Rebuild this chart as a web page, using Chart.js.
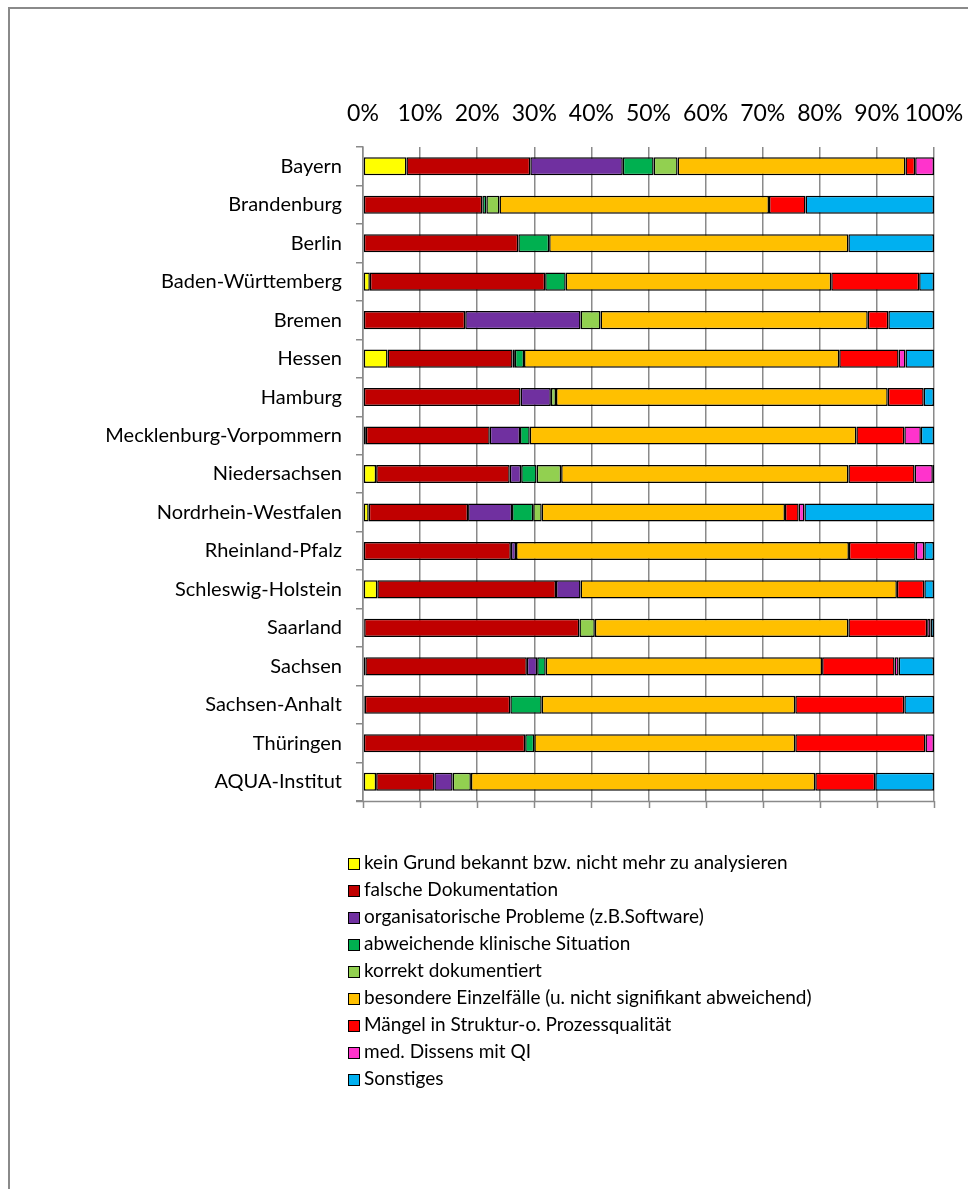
<!DOCTYPE html>
<html lang="de">
<head>
    <meta charset="UTF-8">
    <title>Gründe für auffällige Ergebnisse</title>
    <script src="https://cdn.jsdelivr.net/npm/chart.js"></script>
    <style>
        html, body {
            margin: 0;
            padding: 0;
            width: 968px;
            height: 1189px;
            overflow: hidden;
            background: #ffffff;
            font-family: 'Lato', sans-serif;
        }
        .frame {
            position: absolute;
            left: 8px;
            top: 7px;
            width: 2000px;
            height: 2000px;
            border: 2px solid #8a8a8a;
        }
        #chart {
            position: absolute;
            left: 0;
            top: 0;
        }
        #legend {
            position: absolute;
            left: 348px;
            top: 848px;
            margin: 0;
            padding: 0;
            list-style: none;
        }
        #legend li {
            height: 27px;
            line-height: 27px;
            font-size: 19px;
            color: #000;
            white-space: nowrap;
        }
        #legend span.box {
            display: inline-block;
            width: 10px;
            height: 10px;
            border: 1.5px solid #000;
            margin-right: 4px;
            vertical-align: -1px;
        }
    </style>
</head>
<body>
    <div class="frame"></div>
    <canvas id="chart" width="968" height="1189"></canvas>
    <ul id="legend"></ul>

    <script>
        // Categories (top to bottom)
        const laender = [
            'Bayern', 'Brandenburg', 'Berlin', 'Baden-Württemberg', 'Bremen', 'Hessen', 'Hamburg',
            'Mecklenburg-Vorpommern', 'Niedersachsen', 'Nordrhein-Westfalen', 'Rheinland-Pfalz',
            'Schleswig-Holstein', 'Saarland', 'Sachsen', 'Sachsen-Anhalt', 'Thüringen', 'AQUA-Institut'
        ];

        // Shares in percent, one array per reason (same order as laender)
        const keinGrund     = [7.6, 0, 0, 1.2, 0, 4.3, 0, 0.5, 2.3, 1.0, 0, 2.5, 0.2, 0.4, 0.3, 0, 2.3];
        const falscheDoku   = [21.7, 20.9, 27.2, 30.7, 17.9, 21.9, 27.6, 21.7, 23.4, 17.4, 25.9, 31.3, 37.7, 28.3, 25.5, 28.4, 10.2];
        const orgaProbleme  = [16.2, 0, 0, 0, 20.2, 0.4, 5.3, 5.3, 2.0, 7.7, 0.9, 4.3, 0, 1.8, 0, 0, 3.2];
        const klinSituation = [5.4, 0.7, 5.4, 3.6, 0, 1.6, 0, 1.7, 2.7, 3.7, 0, 0, 0, 1.5, 5.5, 1.6, 0];
        const korrektDoku   = [4.2, 2.3, 0, 0, 3.5, 0, 0.9, 0, 4.3, 1.5, 0, 0, 2.7, 0, 0, 0, 3.2];
        const einzelfaelle  = [39.9, 47.2, 52.4, 46.5, 46.8, 55.2, 58.1, 57.2, 50.3, 42.6, 58.3, 55.4, 44.4, 48.4, 44.4, 45.7, 60.3];
        const maengel       = [1.7, 6.4, 0, 15.4, 3.6, 10.4, 6.3, 8.4, 11.6, 2.4, 11.7, 4.8, 13.8, 12.7, 19.1, 22.8, 10.5];
        const dissens       = [3.3, 0, 0, 0, 0, 1.2, 0, 2.9, 3.2, 1.0, 1.5, 0, 0.6, 0.7, 0, 1.5, 0];
        const sonstiges     = [0, 22.5, 15.0, 2.6, 8.0, 5.0, 1.8, 2.3, 0.2, 22.7, 1.7, 1.7, 0.6, 6.2, 5.2, 0, 10.3];

        const reasonLabels = [
            'kein Grund bekannt bzw. nicht mehr zu analysieren',
            'falsche Dokumentation',
            'organisatorische Probleme (z.B.Software)',
            'abweichende klinische Situation',
            'korrekt dokumentiert',
            'besondere Einzelfälle (u. nicht signifikant abweichend)',
            'Mängel in Struktur-o. Prozessqualität',
            'med. Dissens mit QI',
            'Sonstiges'
        ];
        const reasonValues = [keinGrund, falscheDoku, orgaProbleme, klinSituation, korrektDoku,
                              einzelfaelle, maengel, dissens, sonstiges];
        const reasonColors = ['#FFFF00', '#C00000', '#7030A0', '#00B050', '#92D050',
                              '#FFC000', '#FF0000', '#FF33CC', '#00B0F0'];

        const xTicks = [0, 10, 20, 30, 40, 50, 60, 70, 80, 90, 100];

        const gridColor = '#8a8a8a';

        const datasets = reasonLabels.map((label, i) => ({
            label: label,
            data: reasonValues[i].map(v => v || null),
            backgroundColor: reasonColors[i],
            borderColor: '#000000',
            borderWidth: 1.5,
            borderSkipped: false,
            inflateAmount: 0,
            barPercentage: 0.47,
            categoryPercentage: 1.0
        }));

        // bottom axis line with tick marks below (value axis labels sit on top)
        const bottomAxis = {
            id: 'bottomAxis',
            afterDraw(chart) {
                const { ctx, chartArea, scales } = chart;
                const tl = 7;
                ctx.save();
                ctx.strokeStyle = gridColor;
                ctx.lineWidth = 1.5;
                ctx.beginPath();
                ctx.moveTo(chartArea.left - tl, chartArea.bottom + 0.5);
                ctx.lineTo(chartArea.right, chartArea.bottom + 0.5);
                xTicks.forEach(t => {
                    const px = Math.round(scales.x.getPixelForValue(t)) + 0.5;
                    ctx.moveTo(px, chartArea.bottom);
                    ctx.lineTo(px, chartArea.bottom + tl);
                });
                ctx.stroke();
                ctx.restore();
            }
        };

        const ctx = document.getElementById('chart').getContext('2d');
        new Chart(ctx, {
            type: 'bar',
            data: { labels: laender, datasets: datasets },
            options: {
                indexAxis: 'y',
                responsive: false,
                animation: false,
                layout: { padding: { left: 0, top: 0, right: 34, bottom: 388 } },
                plugins: {
                    legend: { display: false },
                    tooltip: { enabled: false }
                },
                scales: {
                    x: {
                        stacked: true,
                        position: 'top',
                        min: 0,
                        max: 100,
                        afterBuildTicks: scale => {
                            scale.ticks = xTicks.map(v => ({ value: v }));
                        },
                        afterFit: scale => {
                            scale.height = 147;
                            scale.paddingLeft = 0;
                            scale.paddingRight = 0;
                        },
                        grid: {
                            color: gridColor,
                            lineWidth: 1.5,
                            drawTicks: false
                        },
                        border: { display: false },
                        ticks: {
                            padding: 20,
                            color: '#000',
                            font: { family: 'Lato', size: 23 },
                            autoSkip: false,
                            maxRotation: 0,
                            callback: v => v + '%'
                        }
                    },
                    y: {
                        stacked: true,
                        afterFit: scale => { scale.width = 363; },
                        grid: {
                            offset: true,
                            drawOnChartArea: false,
                            drawTicks: true,
                            tickLength: 7,
                            color: gridColor,
                            lineWidth: 1.5
                        },
                        border: { display: true, color: gridColor, width: 1.5 },
                        ticks: {
                            padding: 14,
                            color: '#000',
                            font: { family: 'Lato', size: 20 },
                            autoSkip: false
                        }
                    }
                }
            },
            plugins: [bottomAxis]
        });

        // legend as a vertical list, built from the datasets
        const legendEl = document.getElementById('legend');
        reasonLabels.forEach((label, i) => {
            const li = document.createElement('li');
            const box = document.createElement('span');
            box.className = 'box';
            box.style.background = reasonColors[i];
            li.appendChild(box);
            li.appendChild(document.createTextNode(label));
            legendEl.appendChild(li);
        });
    </script>
</body>
</html>
